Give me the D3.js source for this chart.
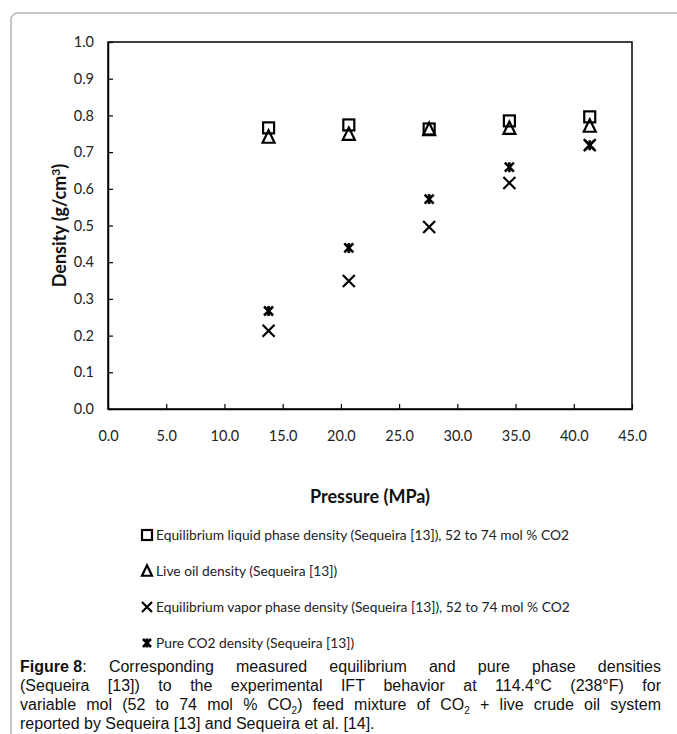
<!DOCTYPE html>
<html><head><meta charset="utf-8">
<script src="https://cdn.jsdelivr.net/npm/d3@7"></script>
<style>
html,body{margin:0;padding:0;background:#fff;}
svg{display:block;}
</style></head>
<body>
<svg id="chart" width="677" height="734"></svg>
<script>
// ---- data ----
const pressures = [13.79, 20.68, 27.58, 34.47, 41.37];            // MPa
const liquidDensity = [0.766, 0.774, 0.763, 0.785, 0.796];       // squares
const liveOilDensity = [0.741, 0.749, 0.762, 0.765, 0.771];      // triangles
const vaporDensity = [0.213, 0.349, 0.496, 0.616, 0.719];        // x
const pureCO2Density = [0.267, 0.439, 0.572, 0.659, 0.719];      // asterisk
const xTicks = [0, 5, 10, 15, 20, 25, 30, 35, 40, 45];
const yTicks = [0, 0.1, 0.2, 0.3, 0.4, 0.5, 0.6, 0.7, 0.8, 0.9, 1.0];
const legendLabels = [
  "Equilibrium liquid phase density (Sequeira [13]), 52 to 74  mol % CO2",
  "Live oil density (Sequeira [13])",
  "Equilibrium vapor phase density (Sequeira [13]), 52 to 74 mol % CO2",
  "Pure CO2 density (Sequeira [13])"
];
const markerTypes = ["square", "triangle", "cross", "star"];

const svg = d3.select("#chart");

// outer rounded frame
svg.append("rect").attr("x", 11).attr("y", 13).attr("width", 700).attr("height", 760)
  .attr("rx", 7).attr("fill", "none").attr("stroke", "#b4b4b4").attr("stroke-width", 1.5);

const L = 108, R = 632, T = 42, B = 409;
const x = d3.scaleLinear().domain([0, 45]).range([L, R]);
const y = d3.scaleLinear().domain([0, 1]).range([B, T]);

const tickFont = "Lato, 'Open Sans', sans-serif";

// axes with inside ticks
const xAxis = d3.axisBottom(x).tickValues(xTicks).tickFormat(d3.format(".1f")).tickSizeInner(-5).tickSizeOuter(0).tickPadding(22);
const gx = svg.append("g").attr("transform", `translate(0,${B})`).call(xAxis);
const yAxis = d3.axisLeft(y).tickValues(yTicks).tickFormat(d3.format(".1f")).tickSizeInner(-5).tickSizeOuter(0).tickPadding(14);
const gy = svg.append("g").attr("transform", `translate(${L},0)`).call(yAxis);
[gx, gy].forEach(g => {
  g.select(".domain").attr("stroke", "#000").attr("stroke-width", 1.5);
  g.selectAll(".tick line").attr("stroke", "#000").attr("stroke-width", 1.2);
  g.selectAll(".tick text").attr("fill", "#222").style("font-family", tickFont).style("font-size", "14.5px");
});
// frame top/right
svg.append("rect").attr("x", L).attr("y", T).attr("width", R - L).attr("height", B - T)
  .attr("fill", "none").attr("stroke", "#000").attr("stroke-width", 1.5);

// axis titles
svg.append("text").attr("x", (L + R) / 2).attr("y", 503).attr("text-anchor", "middle")
  .style("font-family", tickFont).style("font-weight", "bold").style("font-size", "18px").attr("fill", "#111")
  .text("Pressure (MPa)");
const yt = svg.append("text").attr("transform", `translate(66,${(T + B) / 2}) rotate(-90)`).attr("text-anchor", "middle")
  .style("font-family", tickFont).style("font-weight", "bold").style("font-size", "18px").attr("fill", "#111");
yt.append("tspan").text("Density (g/cm");
yt.append("tspan").attr("dy", -6).style("font-size", "12px").text("3");
yt.append("tspan").attr("dy", 6).text(")");

// marker drawing
function drawMarker(g, type, cx, cy, s) {
  let el;
  if (type === "square") {
    el = g.append("rect").attr("x", cx - s / 2).attr("y", cy - s / 2).attr("width", s).attr("height", s);
  } else if (type === "triangle") {
    const h = s * 0.95;
    el = g.append("path").attr("d", `M${cx},${cy - h / 2 - 1} L${cx + s / 2},${cy + h / 2} L${cx - s / 2},${cy + h / 2} Z`);
  } else if (type === "cross") {
    const r = s / 2;
    el = g.append("path").attr("d", `M${cx - r},${cy - r} L${cx + r},${cy + r} M${cx - r},${cy + r} L${cx + r},${cy - r}`);
  } else {
    const r = s / 2 - 0.5;
    el = g.append("path").attr("d", `M${cx - r},${cy - r} L${cx + r},${cy + r} M${cx - r},${cy + r} L${cx + r},${cy - r} M${cx},${cy - r - 0.5} L${cx},${cy + r + 0.5}`);
  }
  el.attr("stroke", "#000").attr("stroke-width", type === "star" ? 2.6 : 2.2).attr("fill", "none");
}

const series = [liquidDensity, liveOilDensity, vaporDensity, pureCO2Density];
const sizes = [11, 12, 12, 10];
const gp = svg.append("g");
series.forEach((vals, i) => {
  vals.forEach((v, j) => drawMarker(gp, markerTypes[i], x(pressures[j]), y(v), sizes[i]));
});

// legend
const legendY = [535, 571, 607, 643];
legendLabels.forEach((lab, i) => {
  const g = svg.append("g");
  drawMarker(g, markerTypes[i], 147, legendY[i], i === 3 ? 9 : 10);
  g.append("text").attr("x", 156).attr("y", legendY[i] + 5)
    .style("font-family", tickFont).style("font-size", "13.8px").attr("fill", "#222").text(lab);
});

// caption (justified)
const capFont = "'Liberation Sans', Arial, sans-serif";
const capLines = [
  { y: 672, justify: true, words: [[{ t: "Figure 8", b: true }, { t: ":" }], "Corresponding", "measured", "equilibrium", "and", "pure", "phase", "densities"] },
  { y: 691, justify: true, words: ["(Sequeira", "[13])", "to", "the", "experimental", "IFT", "behavior", "at", "114.4°C", "(238°F)", "for"] },
  { y: 710, justify: true, words: ["variable", "mol", "(52", "to", "74", "mol", "%", [{ t: "CO" }, { t: "2", sub: true }, { t: ")" }], "feed", "mixture", "of", [{ t: "CO" }, { t: "2", sub: true }], "+", "live", "crude", "oil", "system"] },
  { y: 729, justify: false, words: ["reported", "by", "Sequeira", "[13]", "and", "Sequeira", "et", "al.", "[14]."] }
];
const capL = 20, capR = 661;
capLines.forEach(line => {
  const els = line.words.map(w => {
    const t = svg.append("text").attr("y", line.y).style("font-family", capFont).style("font-size", "16px").attr("fill", "#111");
    const parts = typeof w === "string" ? [{ t: w }] : w;
    parts.forEach((p, k) => {
      const ts = t.append("tspan").text(p.t);
      if (p.b) ts.style("font-weight", "bold");
      if (p.sub) ts.attr("dy", 4).style("font-size", "10px");
      else if (k > 0 && parts[k - 1].sub) ts.attr("dy", -4);
    });
    return t;
  });
  const widths = els.map(e => e.node().getComputedTextLength());
  const total = widths.reduce((a, b) => a + b, 0);
  const gap = line.justify ? (capR - capL - total) / (els.length - 1) : 4.4;
  let cx = capL;
  els.forEach((e, i) => { e.attr("x", cx); cx += widths[i] + gap; });
});
</script>
</body></html>
